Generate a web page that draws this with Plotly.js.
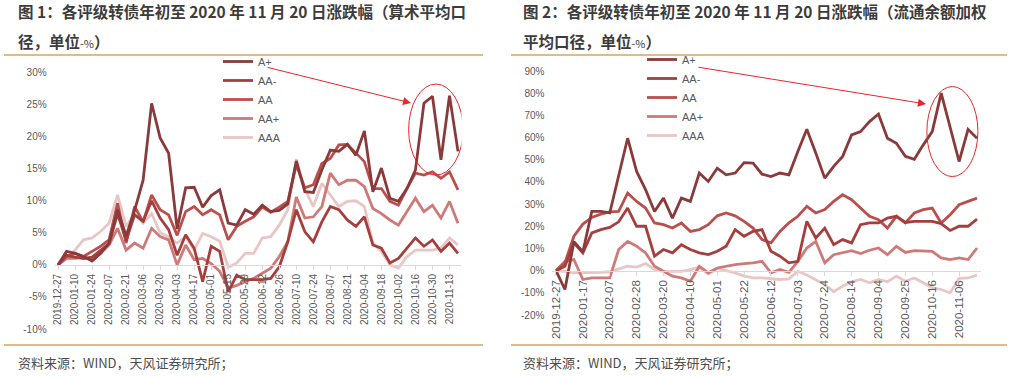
<!DOCTYPE html>
<html><head><meta charset="utf-8">
<script src="https://cdn.plot.ly/plotly-3.0.1.min.js"></script>
<style>html,body{margin:0;padding:0;background:#fff;}#chart{width:1011px;height:377px;}</style>
</head><body><div id="chart"></div>
<script>
// ---- categories (weekly) ----
const dates = ['2019-12-27','2020-01-03','2020-01-10','2020-01-17','2020-01-24','2020-01-31','2020-02-07','2020-02-14',
'2020-02-21','2020-02-28','2020-03-06','2020-03-13','2020-03-20','2020-03-27','2020-04-03','2020-04-10',
'2020-04-17','2020-04-24','2020-05-01','2020-05-08','2020-05-15','2020-05-22','2020-05-29','2020-06-05',
'2020-06-12','2020-06-19','2020-06-26','2020-07-03','2020-07-10','2020-07-17','2020-07-24','2020-07-31',
'2020-08-07','2020-08-14','2020-08-21','2020-08-28','2020-09-04','2020-09-11','2020-09-18','2020-09-25',
'2020-10-02','2020-10-09','2020-10-16','2020-10-23','2020-10-30','2020-11-06','2020-11-13','2020-11-20'];
const ticks1 = ['2019-12-27','2020-01-10','2020-01-24','2020-02-07','2020-02-21','2020-03-06','2020-03-20','2020-04-03',
'2020-04-17','2020-05-01','2020-05-15','2020-05-29','2020-06-12','2020-06-26','2020-07-10','2020-07-24',
'2020-08-07','2020-08-21','2020-09-04','2020-09-18','2020-10-02','2020-10-16','2020-10-30','2020-11-13'];
const ticks2 = ['2019-12-27','2020-01-17','2020-02-07','2020-02-28','2020-03-20','2020-04-10','2020-05-01','2020-05-22',
'2020-06-12','2020-07-03','2020-07-24','2020-08-14','2020-09-04','2020-09-25','2020-10-16','2020-11-06'];
const yt1 = [-10,-5,0,5,10,15,20,25,30];
const yt2 = [-20,-10,0,10,20,30,40,50,60,70,80,90];
const names = ['A+','AA-','AA','AA+','AAA'];

// ---- Chart 1: arithmetic average (%) ----
const c1_Aplus = [0,2.1,1.8,1.3,0.6,1.8,3.4,8.6,4.5,8.5,13.2,25.2,19.8,17.4,5.6,12.0,12.1,9.0,10.8,11.7,6.5,6.2,8.6,7.9,
  9.3,8.3,8.5,9.5,16.2,11.4,11.3,14.8,17.9,17.7,18.8,17.1,20.9,11.4,15.1,10.4,9.9,11.9,14.8,25.2,26.3,16.4,26.4,17.7];
const c1_AAminus = [0,1.5,1.2,1.0,1.2,2.3,3.3,8.0,3.8,7.8,6.8,10.0,7.3,5.5,1.5,4.7,2.6,-2.6,2.9,2.1,-4.2,-1.6,-2.3,-2.3,
  -2.3,-2.1,-0.3,3.6,8.6,5.2,3.6,6.7,9.1,8.6,7.0,6.0,7.5,3.1,2.6,0.3,1.0,2.6,4.2,2.9,3.9,2.1,3.4,1.8];
const c1_AA = [0,1.3,1.8,1.3,2.1,2.9,3.9,9.6,3.4,9.1,6.7,10.9,8.6,7.8,4.6,8.3,9.1,7.8,8.6,7.8,3.9,6.0,6.8,7.5,
  9.0,8.2,9.0,9.9,15.6,12.0,12.5,15.8,16.6,18.7,18.8,17.4,16.1,11.9,11.9,9.9,9.3,11.9,14.3,14.0,14.5,13.5,14.5,11.7];
const c1_AAplus = [0,1.0,1.0,1.2,0.8,1.8,3.1,5.7,2.3,3.4,2.6,5.7,4.4,3.9,0.0,3.1,0.8,1.0,0.2,-1.0,-3.6,-3.2,-2.6,-2.1,
  -1.3,-0.5,1.3,3.6,10.6,7.3,7.5,9.1,14.3,12.5,13.2,13.2,12.2,8.8,8.0,7.0,6.2,8.3,10.4,8.3,9.3,7.3,9.9,6.5];
const c1_AAA = [0,1.0,2.3,3.9,4.2,5.2,6.5,10.9,6.0,8.0,6.5,8.0,5.0,4.4,3.4,4.4,2.3,4.9,4.4,3.7,-0.4,0.3,1.8,1.8,
  4.2,4.4,6.2,8.6,16.5,11.8,9.1,12.7,10.9,9.1,9.9,10.0,9.1,3.4,2.1,0.0,-0.5,1.3,2.3,2.3,2.3,2.6,4.2,3.1];

// ---- Chart 2: outstanding-balance weighted (%) ----
const c2_Aplus = [0,-8.5,13.0,8.5,26.7,26.7,26.0,43.0,59.7,44.7,36.5,26.7,32.7,23.7,32.7,31.2,44.0,40.2,46.2,43.2,44.0,48.7,48.5,43.5,
  42.4,44.0,43.2,53.7,63.7,53.0,41.7,47.0,51.5,61.2,62.7,67.2,70.6,59.7,57.4,51.5,50.2,56.7,62.7,80.0,65.0,49.2,63.7,59.7];
const c2_AAminus = [0,2.0,12.5,8.0,17.0,18.5,19.5,22.0,28.2,20.0,20.0,6.5,9.5,8.0,11.7,9.5,8.0,7.2,8.7,11.0,18.5,15.5,17.7,18.5,
  8.7,6.5,3.5,4.2,22.2,14.7,19.2,11.7,14.0,12.5,20.7,21.5,21.5,23.7,24.5,21.7,22.2,22.2,22.2,21.2,18.1,20.0,20.0,23.2];
const c2_AA = [0,3.5,15.5,21.0,24.0,25.5,26.5,26.7,35.0,31.2,28.2,21.5,20.7,19.2,21.5,17.7,18.5,20.7,24.7,26.0,24.7,22.2,19.2,14.0,
  12.5,17.7,21.5,24.5,29.0,26.0,27.5,31.2,34.2,32.0,28.2,24.5,23.0,19.2,24.5,21.5,26.0,27.5,28.2,21.5,25.2,29.7,31.2,32.7];
const c2_AAplus = [0,4.2,5.0,-4.0,-3.3,-3.3,-3.3,9.5,13.2,11.0,8.0,2.0,-0.3,-2.5,-3.3,-4.8,2.0,-1.0,1.2,2.0,2.7,3.2,3.5,4.2,
  -1.0,0.5,-0.8,4.2,10.2,13.2,3.5,7.2,8.0,9.0,7.7,9.2,10.2,7.2,11.0,8.2,9.0,8.7,8.7,5.7,5.0,5.7,5.0,10.2];
const c2_AAA = [0,-0.3,-1.0,-1.0,-1.0,-0.8,-0.5,0.8,2.0,1.6,3.2,0.5,-0.3,-0.3,-0.3,0.5,1.5,-1.5,1.0,0.0,-1.0,-2.5,-3.3,-3.3,
  -3.7,-4.0,-3.7,-0.3,-2.0,-4.0,-6.3,-9.5,-7.0,-5.0,-4.0,-5.5,-4.0,-5.0,-2.5,-4.8,-3.3,-5.5,-7.8,-8.5,-10.0,-3.5,-3.3,-2.0];

const colors = ['#8A3A3A','#A43F3E','#BA504D','#CD7A78','#E8C6C5'];
const series1 = [c1_Aplus,c1_AAminus,c1_AA,c1_AAplus,c1_AAA];
const series2 = [c2_Aplus,c2_AAminus,c2_AA,c2_AAplus,c2_AAA];

// ---- layout helpers ----
const W = 1011, H = 377;
const fx = px => px / W, fy = px => 1 - px / H;
const x1dom = [fx(54.6), fx(461.4)], y1dom = [fy(329), fy(72.5)], y1rng = [-10, 30];
const x2dom = [fx(552.4), fx(980.6)], y2dom = [fy(315), fy(71)], y2rng = [-20, 90];
const zeroPos = (dom, rng) => dom[0] + (0 - rng[0]) / (rng[1] - rng[0]) * (dom[1] - dom[0]);

const traces = [];
for (let k = names.length - 1; k >= 0; k--) {
  traces.push({x: dates, y: series1[k], name: names[k], type: 'scatter', mode: 'lines',
    line: {color: colors[k], width: 2.8}, xaxis: 'x', yaxis: 'y', legend: 'legend', hoverinfo: 'skip'});
}
for (let k = names.length - 1; k >= 0; k--) {
  traces.push({x: dates, y: series2[k], name: names[k], type: 'scatter', mode: 'lines',
    line: {color: colors[k], width: 2.8}, xaxis: 'x2', yaxis: 'y2', legend: 'legend2', hoverinfo: 'skip'});
}

const tickFont = {family: 'Liberation Sans, Arial, sans-serif', size: 10, color: '#595959'};
function xAxis(dom, yd, yr, tv, fs) {
  return {domain: dom, type: 'category', range: [-0.4, 47.4], tickmode: 'array', tickvals: tv, ticktext: tv,
    tickangle: -90, tickfont: Object.assign({}, tickFont, {size: fs}), showgrid: false, zeroline: false,
    showline: true, linecolor: '#D9D9D9', linewidth: 1, ticks: 'outside', ticklen: 4, tickcolor: '#D9D9D9',
    anchor: 'free', position: zeroPos(yd, yr), fixedrange: true};
}
function yAxis(dom, rng, tv, anchor) {
  return {domain: dom, range: rng, tickmode: 'array', tickvals: tv, ticktext: tv.map(v => v + '%'),
    tickfont: tickFont, showgrid: false, zeroline: false, showline: false, ticks: '', ticklabelstandoff: 7,
    anchor: anchor, fixedrange: true};
}
const legFont = {family: 'Liberation Sans, Arial, sans-serif', size: 11, color: '#595959'};
const titleFont = {family: 'Noto Sans CJK SC, sans-serif', size: 15.5, color: '#3C3C3C'};
const srcFont = {family: 'Noto Sans CJK SC, sans-serif', size: 13, color: '#4D4D4D'};
const orange = '#D6A563';
const red = '#E8262B';

const layout = {
  width: W, height: H, margin: {l: 0, r: 0, t: 0, b: 0}, paper_bgcolor: '#fff', plot_bgcolor: 'rgba(0,0,0,0)',
  xaxis: xAxis(x1dom, y1dom, y1rng, ticks1, 10),
  yaxis: yAxis(y1dom, y1rng, yt1, 'x'),
  xaxis2: xAxis(x2dom, y2dom, y2rng, ticks2, 11.5),
  yaxis2: yAxis(y2dom, y2rng, yt2, 'x2'),
  legend: {x: fx(218), y: fy(47), xanchor: 'left', yanchor: 'top', traceorder: 'reversed', font: legFont,
    bgcolor: 'rgba(0,0,0,0)', itemwidth: 30},
  legend2: {x: fx(642), y: fy(45), xanchor: 'left', yanchor: 'top', traceorder: 'reversed', font: legFont,
    bgcolor: 'rgba(0,0,0,0)', itemwidth: 30},
  showlegend: true,
  shapes: [
    {type: 'line', xref: 'paper', yref: 'paper', x0: fx(4), x1: fx(483), y0: fy(55), y1: fy(55), line: {color: orange, width: 1.5}},
    {type: 'line', xref: 'paper', yref: 'paper', x0: fx(511), x1: fx(1007), y0: fy(55), y1: fy(55), line: {color: orange, width: 1.5}},
    {type: 'line', xref: 'paper', yref: 'paper', x0: fx(4), x1: fx(483), y0: fy(345), y1: fy(345), line: {color: orange, width: 1.5}},
    {type: 'line', xref: 'paper', yref: 'paper', x0: fx(511), x1: fx(1007), y0: fy(345), y1: fy(345), line: {color: orange, width: 1.5}},
    {type: 'circle', xref: 'x', yref: 'y', x0: 41.2, x1: 47.6, y0: 14.0, y1: 28.2, line: {color: red, width: 1}},
    {type: 'circle', xref: 'x2', yref: 'y2', x0: 41.4, x1: 47.1, y0: 42.4, y1: 83.0, line: {color: red, width: 1}}
  ],
  annotations: [
    {xref: 'paper', yref: 'paper', x: fx(16), y: fy(11), xanchor: 'left', yanchor: 'middle', showarrow: false, font: titleFont,
      text: '<b>图 1：各评级转债年初至 2020 年 11 月 20 日涨跌幅（算术平均口</b>'},
    {xref: 'paper', yref: 'paper', x: fx(16), y: fy(41), xanchor: 'left', yanchor: 'middle', showarrow: false, font: titleFont,
      text: '<b>径，单位</b><span style="font-size:11px">-%</span><b>）</b>'},
    {xref: 'paper', yref: 'paper', x: fx(521), y: fy(11), xanchor: 'left', yanchor: 'middle', showarrow: false, font: titleFont,
      text: '<b>图 2：各评级转债年初至 2020 年 11 月 20 日涨跌幅（流通余额加权</b>'},
    {xref: 'paper', yref: 'paper', x: fx(521), y: fy(41), xanchor: 'left', yanchor: 'middle', showarrow: false, font: titleFont,
      text: '<b>平均口径，单位</b><span style="font-size:11px">-%</span><b>）</b>'},
    {xref: 'paper', yref: 'paper', x: fx(16), y: fy(362), xanchor: 'left', yanchor: 'middle', showarrow: false, font: srcFont,
      text: '资料来源：WIND，天风证券研究所；'},
    {xref: 'paper', yref: 'paper', x: fx(521), y: fy(362), xanchor: 'left', yanchor: 'middle', showarrow: false, font: srcFont,
      text: '资料来源：WIND，天风证券研究所；'},
    {xref: 'paper', yref: 'paper', x: fx(411), y: fy(103), text: '', showarrow: true, arrowhead: 2, arrowsize: 1.6,
      arrowwidth: 1, arrowcolor: red, ax: -145, ay: -36, standoff: 0},
    {xref: 'paper', yref: 'paper', x: fx(926), y: fy(104), text: '', showarrow: true, arrowhead: 2, arrowsize: 1.6,
      arrowwidth: 1, arrowcolor: red, ax: -229, ay: -37, standoff: 0}
  ]
};

Plotly.newPlot('chart', traces, layout, {staticPlot: true, displayModeBar: false});
</script>
</body></html>
